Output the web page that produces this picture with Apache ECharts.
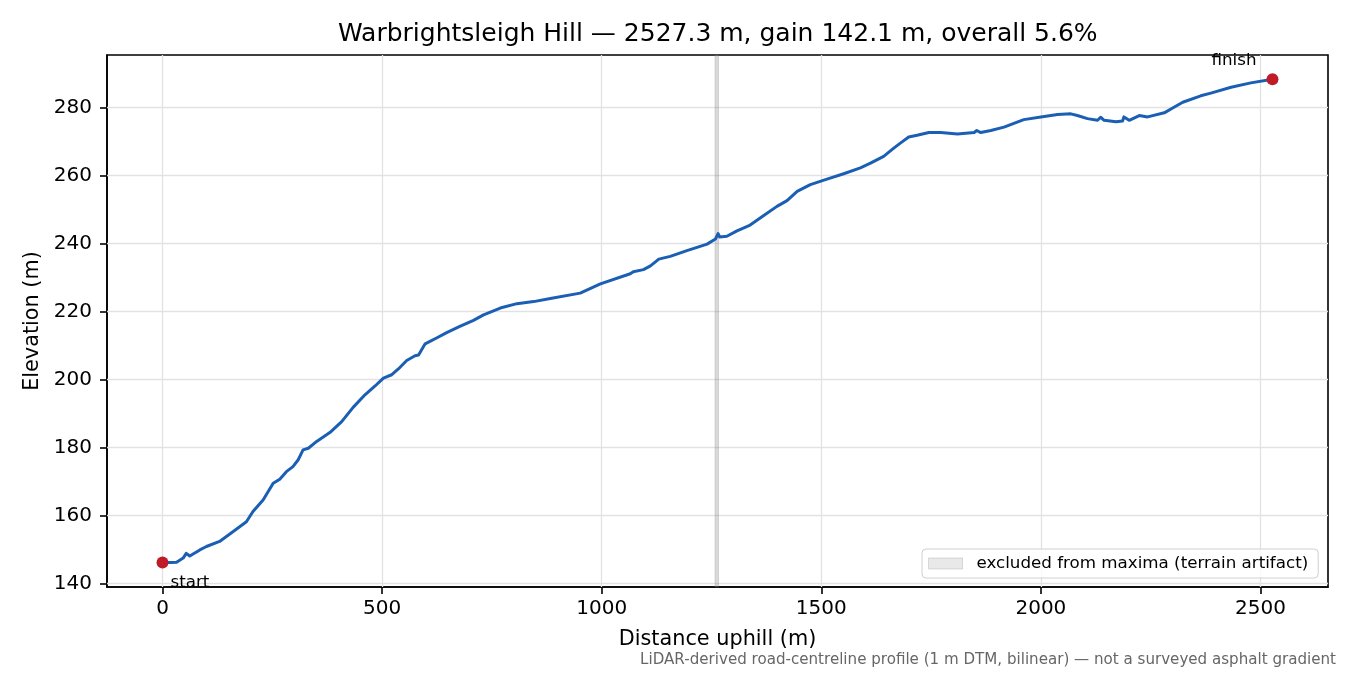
<!DOCTYPE html>
<html>
<head>
<meta charset="utf-8">
<script src="https://cdn.jsdelivr.net/npm/echarts@6/dist/echarts.min.js"></script>
<style>
  html, body { margin: 0; padding: 0; background: #fff; }
  #chart { width: 1350px; height: 675px; }
</style>
</head>
<body>
<div id="chart"></div>
<script>
// profile, metres along the road vs elevation
const distance = [0, 20, 32, 47, 54, 62, 85, 100, 130, 161, 191, 206, 229, 252, 267, 282, 297, 309, 320, 332,
  351, 381, 408, 434, 461, 484, 503, 522, 537, 556, 575, 583, 598, 609, 624, 647, 677, 708, 731, 769,
  807, 845, 883, 951, 997, 1065, 1072, 1095, 1111, 1130, 1156, 1194, 1240, 1259, 1265, 1268.5, 1285, 1308, 1338, 1369,
  1399, 1422, 1445, 1475, 1513, 1551, 1589, 1612, 1642, 1665, 1680, 1699, 1718, 1745, 1772, 1810, 1848, 1854, 1863, 1886,
  1916, 1961, 2000, 2038, 2068, 2083, 2106, 2129, 2136, 2144, 2171, 2186, 2189, 2201, 2224, 2243, 2281, 2300, 2323, 2364,
  2387, 2433, 2478, 2527.3];
const elevation = [146.2, 146.2, 146.3, 147.5, 148.9, 148.1, 149.9, 150.9, 152.4, 155.3, 158.2, 161.2, 164.6, 169.5, 170.7, 172.9, 174.4, 176.4, 179.3, 179.8,
  181.8, 184.4, 187.6, 191.8, 195.5, 198.1, 200.4, 201.4, 203.1, 205.6, 207.0, 207.2, 210.5, 211.2, 212.2, 213.8, 215.6, 217.4, 219.0, 221.0,
  222.3, 222.9, 223.8, 225.4, 228.1, 231.1, 231.7, 232.3, 233.4, 235.4, 236.2, 237.9, 239.8, 241.3, 242.9, 241.9, 242.1, 243.7, 245.4, 248.2,
  250.9, 252.6, 255.3, 257.3, 258.9, 260.5, 262.2, 263.6, 265.6, 268.0, 269.5, 271.3, 271.8, 272.6, 272.6, 272.2, 272.6, 273.2, 272.6, 273.2,
  274.2, 276.4, 277.2, 277.9, 278.1, 277.6, 276.7, 276.2, 277.1, 276.2, 275.8, 276.0, 277.2, 276.2, 277.6, 277.2, 278.4, 279.8, 281.5, 283.4,
  284.2, 285.9, 287.2, 288.3];

const endNames = ['start', 'finish'];
const endPoints = [[0, 146.2], [2527.3, 288.3]];
const excludedRange = [1258, 1266];

const xTicks = [0, 500, 1000, 1500, 2000, 2500];
const yTicks = [140, 160, 180, 200, 220, 240, 260, 280];

const titleText = 'Warbrightsleigh Hill \u2014 2527.3 m, gain 142.1 m, overall 5.6%';
const noteText = 'LiDAR-derived road-centreline profile (1 m DTM, bilinear) \u2014 not a surveyed asphalt gradient';
const excludedName = 'excluded from maxima (terrain artifact)';

const FONT = 'DejaVu Sans';
const chart = echarts.init(document.getElementById('chart'), null, {renderer: 'canvas'});

const profile = distance.map((d, i) => [d, elevation[i]]);
const gridMarks = xTicks.map(v => ({xAxis: v})).concat(yTicks.map(v => ({yAxis: v})));

chart.setOption({
  animation: false,
  backgroundColor: '#fff',
  textStyle: {fontFamily: FONT},
  title: [
    {
      text: titleText,
      left: 338,
      top: 22,
      padding: 0,
      textStyle: {fontFamily: FONT, fontSize: 25, fontWeight: 'normal', color: '#000'}
    },
    {
      text: noteText,
      right: 14,
      top: 653,
      padding: 0,
      textStyle: {fontFamily: FONT, fontSize: 15.1, fontWeight: 'normal', color: '#666'}
    }
  ],
  grid: {
    left: 107, right: 22, top: 55, bottom: 88,
    show: true, borderColor: '#000', borderWidth: 1.6, backgroundColor: 'transparent'
  },
  legend: {
    data: [{name: excludedName, icon: 'rect'}],
    left: 922, top: 549,
    padding: [6, 10, 6, 6],
    itemWidth: 34, itemHeight: 11,
    itemStyle: {color: 'rgba(128,128,128,0.22)', borderColor: 'rgba(128,128,128,0.3)', borderWidth: 1},
    textStyle: {fontFamily: FONT, fontSize: 16.7, color: '#000', padding: [0, 0, 0, 9]},
    backgroundColor: 'rgba(255,255,255,0.8)',
    borderColor: '#d0d0d0', borderWidth: 1, borderRadius: 4,
    selectedMode: false
  },
  xAxis: {
    type: 'value',
    min: -126.4, max: 2653.7,
    axisLine: {show: true, onZero: false, lineStyle: {color: '#000', width: 1.6}},
    axisTick: {show: true, length: 7, customValues: xTicks, lineStyle: {color: '#000', width: 1.6}},
    axisLabel: {customValues: xTicks, formatter: v => String(v), fontFamily: FONT, fontSize: 20, color: '#000', margin: 12},
    splitLine: {show: false},
    name: 'Distance uphill (m)',
    nameLocation: 'middle',
    nameGap: 42,
    nameTextStyle: {fontFamily: FONT, fontSize: 20.8, color: '#000'}
  },
  yAxis: {
    type: 'value',
    min: 139.0, max: 295.4,
    axisLine: {show: true, onZero: false, lineStyle: {color: '#000', width: 1.6}},
    axisTick: {show: true, length: 7, customValues: yTicks, lineStyle: {color: '#000', width: 1.6}},
    axisLabel: {customValues: yTicks, formatter: v => String(v), fontFamily: FONT, fontSize: 20, color: '#000', margin: 15},
    splitLine: {show: false},
    name: 'Elevation (m)',
    nameLocation: 'middle',
    nameGap: 60,
    nameRotate: 90,
    nameTextStyle: {fontFamily: FONT, fontSize: 20.8, color: '#000'}
  },
  series: [
    {
      name: 'grid',
      type: 'line',
      data: [],
      silent: true,
      z: 1,
      markLine: {
        silent: true,
        z: 1,
        symbol: 'none',
        label: {show: false},
        lineStyle: {color: '#e2e2e2', width: 1.3, type: 'solid'},
        emphasis: {disabled: true},
        data: gridMarks
      }
    },
    {
      name: excludedName,
      type: 'scatter',
      data: [],
      silent: true,
      z: 2,
      itemStyle: {color: 'rgba(128,128,128,0.22)', borderColor: 'rgba(128,128,128,0.3)', borderWidth: 1},
      markArea: {
        silent: true,
        z: 2,
        itemStyle: {color: 'rgba(128,128,128,0.3)', borderColor: 'rgba(128,128,128,0.25)', borderWidth: 1},
        data: [[{xAxis: excludedRange[0]}, {xAxis: excludedRange[1]}]]
      }
    },
    {
      name: 'profile',
      type: 'line',
      data: profile,
      showSymbol: false,
      z: 3,
      lineStyle: {color: '#1a5fb4', width: 3, join: 'round', cap: 'round'},
      itemStyle: {color: '#1a5fb4'}
    },
    {
      name: 'ends',
      type: 'scatter',
      z: 4,
      symbolSize: 12,
      itemStyle: {color: '#c01c28', opacity: 1},
      data: [
        {
          value: endPoints[0],
          label: {show: true, formatter: endNames[0], position: 'inside', align: 'left', verticalAlign: 'middle',
            offset: [8, 20], fontFamily: FONT, fontSize: 16.7, color: '#000'}
        },
        {
          value: endPoints[1],
          label: {show: true, formatter: endNames[1], position: 'inside', align: 'right', verticalAlign: 'middle',
            offset: [-16, -18], fontFamily: FONT, fontSize: 16.7, color: '#000'}
        }
      ]
    }
  ]
});
</script>
</body>
</html>
